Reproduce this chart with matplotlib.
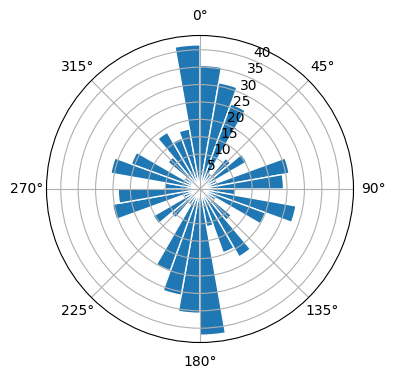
import numpy as np
import matplotlib
matplotlib.use('Agg')
import matplotlib.pyplot as plt

# bin start angles (deg), 10 degree sectors, clockwise from north
bin_start = list(range(0, 360, 10))

# counts per sector
counts = [35.5, 31.0, 26.0, 5.0, 11.5, 15.5, 5.0, 26.0, 24.0,
          10.0, 28.0, 20.0, 5.0, 11.7, 22.5, 19.5, 11.0, 42.0,
          35.7, 31.0, 25.0, 5.0, 10.8, 15.5, 5.0, 25.5, 23.5,
          10.0, 26.0, 21.0, 5.0, 12.0, 18.8, 15.5, 17.5, 41.4]

fig = plt.figure(figsize=(3.96, 3.80), dpi=100)
ax = fig.add_axes([0.1174, 0.0987, 0.7753, 0.8079], projection='polar')
ax.set_theta_zero_location('N')
ax.set_theta_direction(-1)

theta = np.deg2rad(bin_start)
ax.bar(theta, counts, width=np.deg2rad(10), align='edge',
       color='#1f77b4', edgecolor='white')

fig.savefig('out.png', dpi=100)
